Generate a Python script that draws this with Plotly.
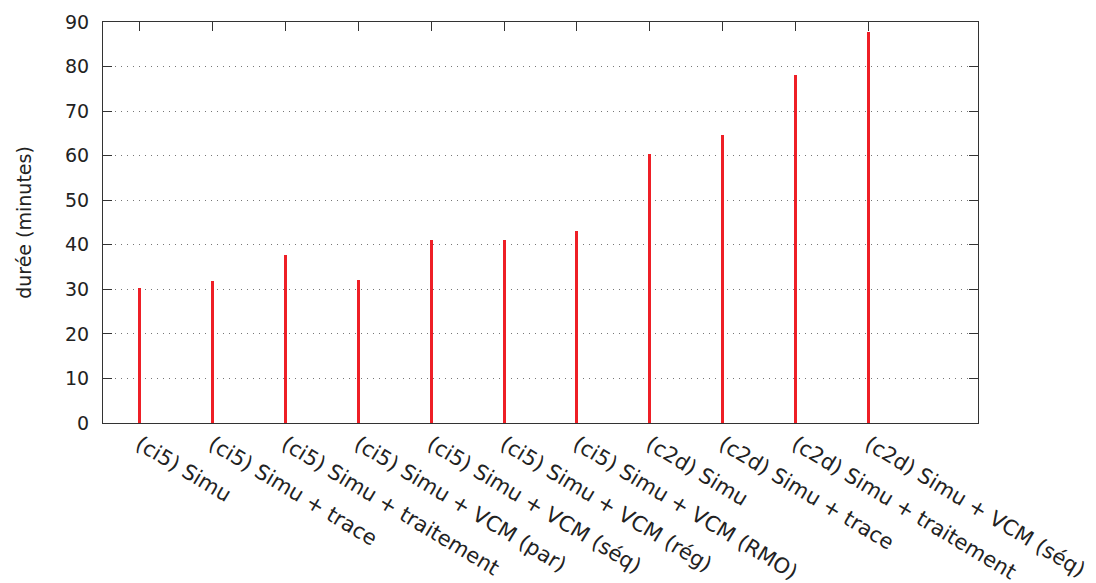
import plotly.graph_objects as go

# Run configurations and their measured wall-clock durations (minutes)
configs = [
    "(ci5) Simu",
    "(ci5) Simu + trace",
    "(ci5) Simu + traitement",
    "(ci5) Simu + VCM (par)",
    "(ci5) Simu + VCM (séq)",
    "(ci5) Simu + VCM (rég)",
    "(ci5) Simu + VCM (RMO)",
    "(c2d) Simu",
    "(c2d) Simu + trace",
    "(c2d) Simu + traitement",
    "(c2d) Simu + VCM (séq)",
]
durations = [30.3, 31.9, 37.7, 32.2, 41.1, 41.1, 43.1, 60.4, 64.6, 78.1, 87.7]
y_ticks = [0, 10, 20, 30, 40, 50, 60, 70, 80, 90]

FONT = "DejaVu Sans"
AXIS = "#333333"
TEXT = "#222222"

fig = go.Figure()
# thin vertical impulses, one per configuration
fig.add_trace(go.Bar(
    x=list(range(len(configs))),
    y=durations,
    width=0.042,
    marker=dict(color="#ee1f26", line=dict(width=0)),
    showlegend=False,
))

fig.update_layout(
    width=1096, height=583,
    margin=dict(l=103, r=118, t=22, b=160),
    paper_bgcolor="white", plot_bgcolor="white",
    font=dict(family=FONT, size=19, color=TEXT),
    bargap=0,
)
fig.update_xaxes(
    range=[-0.5, 11.5],
    automargin=False,
    tickmode="array",
    tickvals=list(range(len(configs))),
    ticktext=configs,
    tickangle=31,
    ticks="inside", ticklen=9, tickcolor=AXIS, tickwidth=1,
    showline=True, linecolor=AXIS, linewidth=1, mirror="ticks",
    showgrid=False, zeroline=False,
    layer="below traces",
    tickfont=dict(family=FONT, size=21, color=TEXT),
)
fig.update_yaxes(
    range=[0, 90],
    automargin=False,
    tickmode="array", tickvals=y_ticks,
    ticks="inside", ticklen=9, tickcolor=AXIS, tickwidth=1,
    ticklabelstandoff=9,
    showline=True, linecolor=AXIS, linewidth=1, mirror="ticks",
    showgrid=True, gridcolor="#777777", gridwidth=1, griddash="1px,5px",
    zeroline=False,
    tickfont=dict(family=FONT, size=19, color=TEXT),
    title=dict(text="durée (minutes)", font=dict(family=FONT, size=19, color=TEXT), standoff=28),
)

fig.write_html("out.html")
